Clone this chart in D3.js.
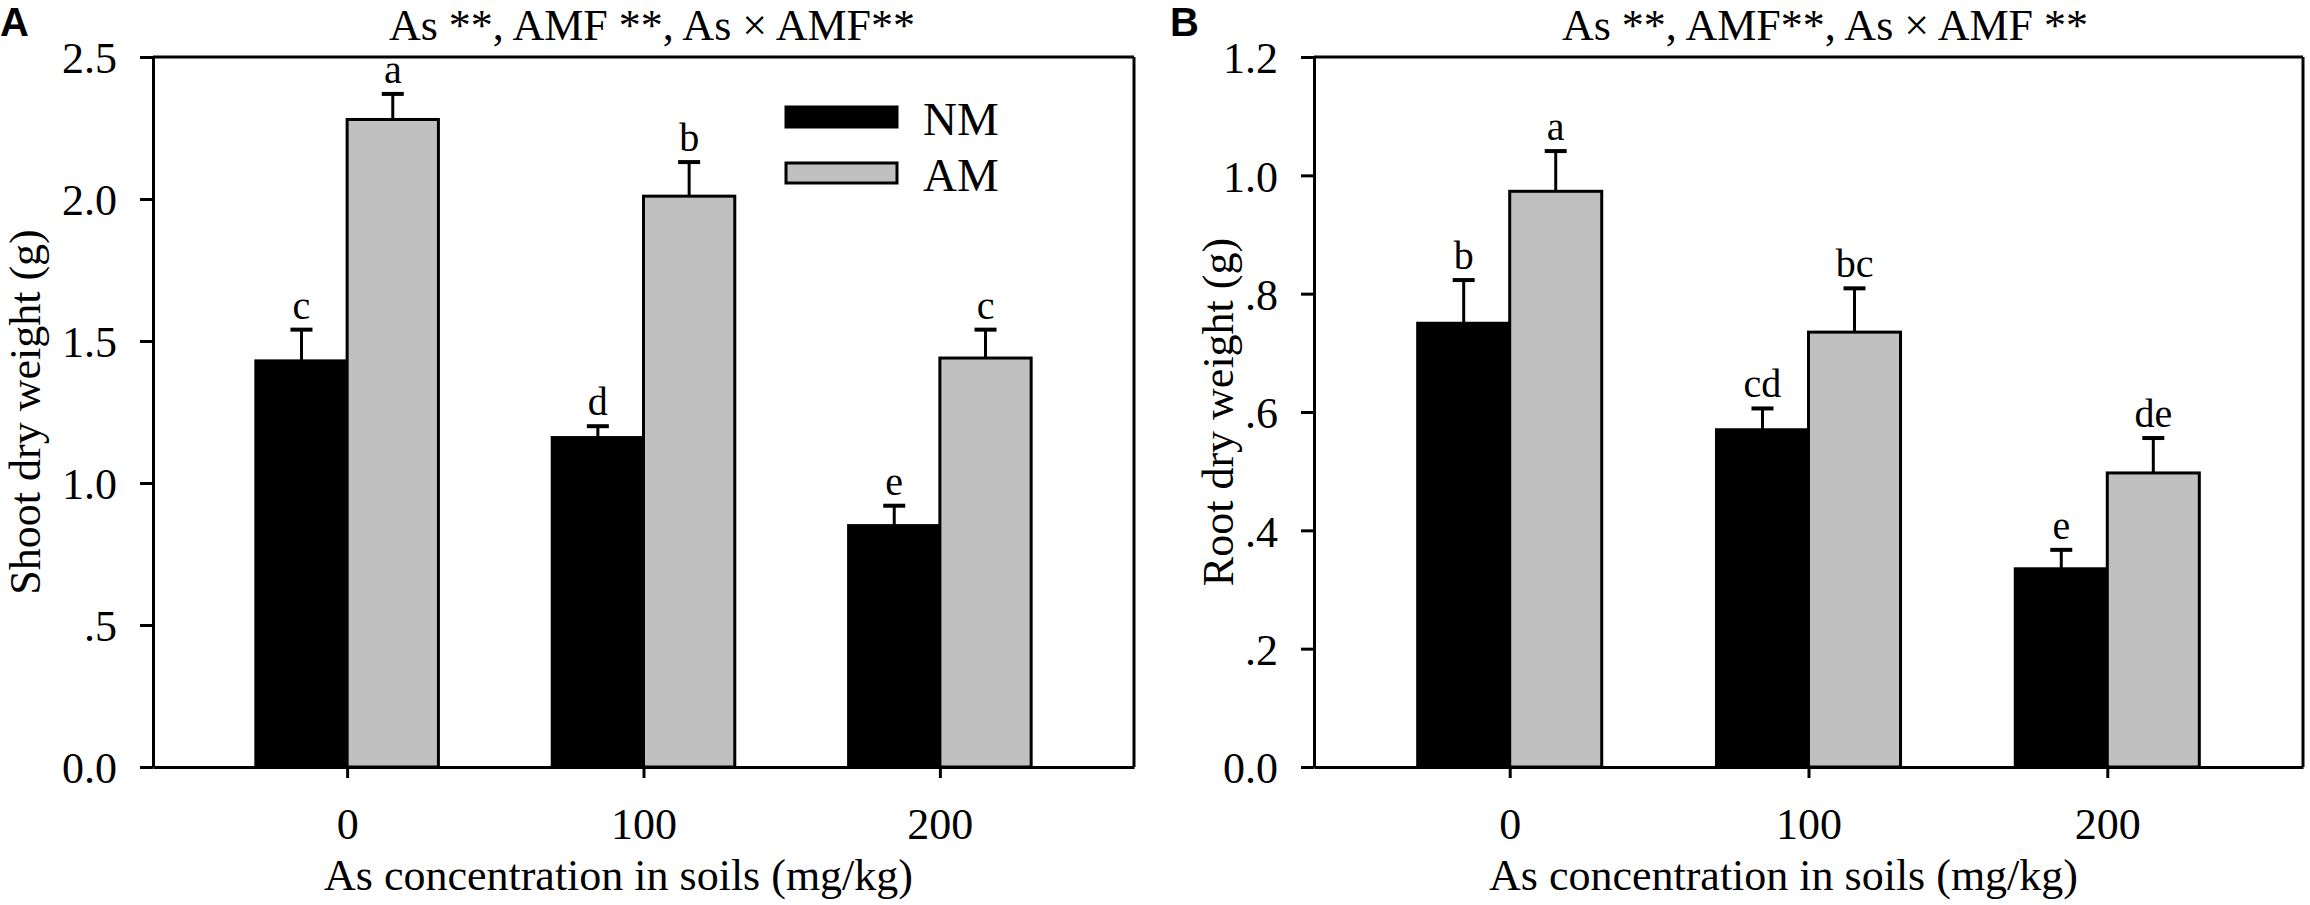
<!doctype html>
<html>
  <head>
    <meta charset="utf-8">
    <style>
      body { margin: 0; background: #fff; }
      #fig { display: block; }
      .serif { font-family: "Liberation Serif", "Times New Roman", serif; fill: #000; }
      .tag { font-family: "Liberation Sans", Arial, sans-serif; font-weight: bold; font-size: 40px; }
      .axis path, .axis line { stroke: #000; stroke-width: 3px; }
      .axis text { font-family: "Liberation Serif", serif; font-size: 44px; fill: #000; }
    </style>
  </head>
  <body>
    <svg id="fig" width="2310" height="905"></svg>

    <script src="https://d3js.org/d3.v7.min.js"></script>
    <script>
      // data
      var categories = ["0", "100", "200"];
      var series = ["NM", "AM"];

      var shootNM = [1.43, 1.16, 0.85];
      var shootNMErr = [0.11, 0.04, 0.07];
      var shootAM = [2.28, 2.01, 1.44];
      var shootAMErr = [0.09, 0.12, 0.10];
      var shootLettersNM = ["c", "d", "e"];
      var shootLettersAM = ["a", "b", "c"];
      var shootTicks = [0, 0.5, 1.0, 1.5, 2.0, 2.5];
      var shootTickLabels = ["0.0", ".5", "1.0", "1.5", "2.0", "2.5"];

      var rootNM = [0.75, 0.57, 0.335];
      var rootNMErr = [0.073, 0.036, 0.032];
      var rootAM = [0.973, 0.735, 0.497];
      var rootAMErr = [0.068, 0.074, 0.059];
      var rootLettersNM = ["b", "cd", "e"];
      var rootLettersAM = ["a", "bc", "de"];
      var rootTicks = [0, 0.2, 0.4, 0.6, 0.8, 1.0, 1.2];
      var rootTickLabels = ["0.0", ".2", ".4", ".6", ".8", "1.0", "1.2"];

      var svg = d3.select("#fig");
      var plotTop = 57, plotBottom = 767;

      function panel(opt) {
        var w = opt.right - opt.left,
            h = plotBottom - plotTop;
        var g = svg.append("g").attr("transform", "translate(" + opt.left + "," + plotTop + ")");

        var x = d3.scalePoint().domain(categories).range([0, w]).padding(0.655);
        var y = d3.scaleLinear().domain([0, opt.ymax]).range([h, 0]);
        var bw = x.step() * 0.308;

        var rows = categories.map(function(c, i) {
          return [
            {cat: c, s: "NM", v: opt.nm[i], e: opt.nmErr[i], l: opt.nmLet[i]},
            {cat: c, s: "AM", v: opt.am[i], e: opt.amErr[i], l: opt.amLet[i]}
          ];
        }).flat();

        // frame top + right
        g.append("line").attr("x1", 0).attr("x2", w).attr("y1", 0).attr("y2", 0)
          .attr("stroke", "#000").attr("stroke-width", 3);
        g.append("line").attr("x1", w).attr("x2", w).attr("y1", 0).attr("y2", h)
          .attr("stroke", "#000").attr("stroke-width", 3);

        function bx(d) { return d.s == "NM" ? x(d.cat) - bw : x(d.cat); }

        g.selectAll(".bar").data(rows).enter().append("rect")
          .attr("class", "bar")
          .attr("x", bx)
          .attr("y", function(d) { return y(d.v); })
          .attr("width", bw)
          .attr("height", function(d) { return h - y(d.v); })
          .attr("fill", function(d) { return d.s == "NM" ? "#000" : "#c0c0c0"; })
          .attr("stroke", "#000")
          .attr("stroke-width", 3);

        // error bars (upper only)
        var eb = g.selectAll(".err").data(rows).enter().append("g").attr("class", "err");
        eb.append("line")
          .attr("x1", function(d) { return bx(d) + bw / 2; })
          .attr("x2", function(d) { return bx(d) + bw / 2; })
          .attr("y1", function(d) { return y(d.v); })
          .attr("y2", function(d) { return y(d.v + d.e); })
          .attr("stroke", "#000").attr("stroke-width", 3);
        eb.append("line")
          .attr("x1", function(d) { return bx(d) + bw / 2 - 11; })
          .attr("x2", function(d) { return bx(d) + bw / 2 + 11; })
          .attr("y1", function(d) { return y(d.v + d.e); })
          .attr("y2", function(d) { return y(d.v + d.e); })
          .attr("stroke", "#000").attr("stroke-width", 4);
        eb.append("text")
          .attr("class", "serif")
          .attr("x", function(d) { return bx(d) + bw / 2; })
          .attr("y", function(d) { return y(d.v + d.e) - 11; })
          .attr("text-anchor", "middle")
          .attr("font-size", 40)
          .text(function(d) { return d.l; });

        // axes
        g.append("g").attr("class", "axis")
          .call(d3.axisLeft(y).tickValues(opt.ticks).tickSize(13).tickSizeOuter(0).tickPadding(23)
            .tickFormat(function(d, i) { return opt.tickLabels[i]; }))
          .call(function(a) { a.selectAll("text").attr("dy", "0.36em"); });

        g.append("g").attr("class", "axis").attr("transform", "translate(0," + h + ")")
          .call(d3.axisBottom(x).tickSize(11).tickSizeOuter(0).tickPadding(61))
          .call(function(a) { a.selectAll("text").attr("dy", "0"); });

        // titles
        g.append("text").attr("class", "serif")
          .attr("x", opt.titleX - opt.left).attr("y", 40 - plotTop)
          .attr("text-anchor", "middle").attr("font-size", 44)
          .text(opt.title);
        g.append("text").attr("class", "serif")
          .attr("x", w / 2 - 25).attr("y", 890 - plotTop)
          .attr("text-anchor", "middle").attr("font-size", 44)
          .text("As concentration in soils (mg/kg)");
        g.append("text").attr("class", "serif")
          .attr("transform", "translate(" + (opt.ylabX - opt.left) + "," + (h / 2) + ") rotate(-90)")
          .attr("text-anchor", "middle").attr("font-size", 44)
          .text(opt.ylab);

        svg.append("text").attr("class", "tag")
          .attr("x", opt.tagX).attr("y", 36).text(opt.tag);

        return {g: g, x: x, y: y};
      }

      var pA = panel({
        left: 153, right: 1134, ymax: 2.5,
        nm: shootNM, nmErr: shootNMErr, am: shootAM, amErr: shootAMErr,
        nmLet: shootLettersNM, amLet: shootLettersAM,
        ticks: shootTicks, tickLabels: shootTickLabels,
        title: "As **, AMF **, As \u00d7 AMF**", titleX: 652,
        ylab: "Shoot dry weight (g)", ylabX: 40,
        tag: "A", tagX: 0
      });

      panel({
        left: 1314, right: 2303, ymax: 1.2,
        nm: rootNM, nmErr: rootNMErr, am: rootAM, amErr: rootAMErr,
        nmLet: rootLettersNM, amLet: rootLettersAM,
        ticks: rootTicks, tickLabels: rootTickLabels,
        title: "As **, AMF**, As \u00d7 AMF **", titleX: 1825,
        ylab: "Root dry weight (g)", ylabX: 1233,
        tag: "B", tagX: 1170
      });

      // legend (panel A only)
      var leg = pA.g.append("g").attr("transform", "translate(" + (786 - 153) + "," + (107 - plotTop) + ")");
      var legY = d3.scaleBand().domain(series).range([0, 112]);
      leg.selectAll("rect").data(series).enter().append("rect")
        .attr("x", 0).attr("y", function(d) { return legY(d); })
        .attr("width", 111).attr("height", 20)
        .attr("fill", function(d) { return d == "NM" ? "#000" : "#c0c0c0"; })
        .attr("stroke", "#000").attr("stroke-width", 3);
      leg.selectAll("text").data(series).enter().append("text")
        .attr("class", "serif")
        .attr("x", 137).attr("y", function(d) { return legY(d) + 28; })
        .attr("font-size", 47)
        .text(function(d) { return d; });
    </script>
  </body>
</html>
